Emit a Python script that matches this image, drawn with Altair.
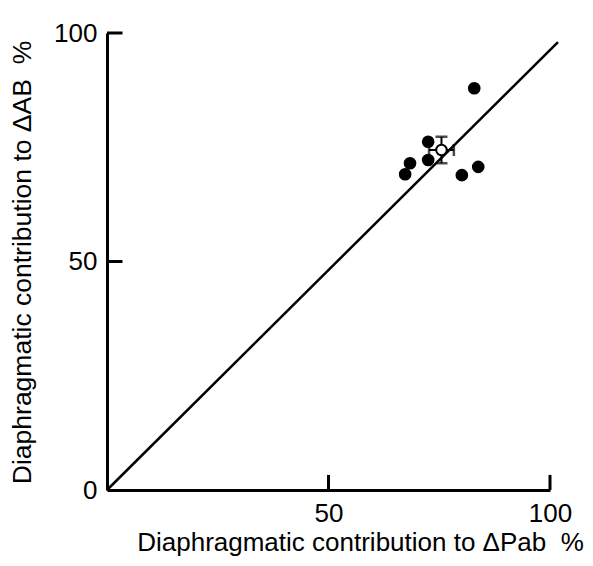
import altair as alt
import pandas as pd

# Individual subjects (filled circles)
pab = [67.3, 68.4, 72.5, 72.5, 80.1, 83.8, 82.9]
ab = [69.1, 71.5, 76.2, 72.2, 68.9, 70.7, 87.9]

# Mean +/- SE (open circle)
mean_pab = [75.5]
mean_ab = [74.4]
se_pab = [2.8]
se_ab = [2.9]

# Line drawn through the origin
line_x = [0, 101.8]
line_y = [0, 98]

x_ticks = [50, 100]
y_ticks = [0, 50, 100]
tick_marks = [50, 100]

XT = "Diaphragmatic contribution to \u0394Pab\u00a0\u00a0%"
YT = "Diaphragmatic contribution to \u0394AB\u00a0\u00a0%"

pts = pd.DataFrame({"pab": pab, "ab": ab})
mean_df = pd.DataFrame({
    "pab": mean_pab, "ab": mean_ab,
    "pab_lo": [m - s for m, s in zip(mean_pab, se_pab)],
    "pab_hi": [m + s for m, s in zip(mean_pab, se_pab)],
    "ab_lo": [m - s for m, s in zip(mean_ab, se_ab)],
    "ab_hi": [m + s for m, s in zip(mean_ab, se_ab)],
})
line_df = pd.DataFrame({"pab": line_x, "ab": line_y})
tick_df = pd.DataFrame({"v": tick_marks})

FONT = "Liberation Sans"

xscale = alt.Scale(domain=[0, 100], nice=False, zero=True)
yscale = alt.Scale(domain=[0, 100], nice=False, zero=True)

xaxis = alt.Axis(
    values=x_ticks, ticks=False, grid=False, domainColor="black", domainWidth=3,
    labelFontSize=26, labelFont=FONT, labelColor="black", labelPadding=10,
    labelFlush=False, labelOverlap=False,
    titleFont=FONT,
    titleFontSize=26, titleFontWeight="normal", titleColor="black",
    titleX=253, titleY=60, titleAlign="center", titleBaseline="alphabetic",
)
yaxis = alt.Axis(
    values=y_ticks, ticks=False, grid=False, domainColor="black", domainWidth=3,
    labelFontSize=26, labelFont=FONT, labelColor="black", labelPadding=10,
    labelFlush=False, labelOverlap=False,
    titleFont=FONT,
    titleFontSize=26.5, titleFontWeight="normal", titleColor="black",
    titleX=-85, titleY=229, titleAngle=-90, titleAlign="center",
    titleBaseline="middle",
)

base_x = alt.X("pab:Q", scale=xscale, axis=xaxis, title=XT)
base_y = alt.Y("ab:Q", scale=yscale, axis=yaxis, title=YT)

line = alt.Chart(line_df).mark_line(color="black", strokeWidth=2.5, clip=False).encode(
    x=base_x, y=base_y
)

dots = alt.Chart(pts).mark_circle(color="black", opacity=1, size=160).encode(
    x=alt.X("pab:Q", title=XT), y=alt.Y("ab:Q", title=YT)
)

hbar = alt.Chart(mean_df).mark_errorbar(
    ticks={"size": 12, "thickness": 2.5}, color="black", thickness=2
).encode(
    x=alt.X("pab_lo:Q", title=XT), x2="pab_hi:Q", y=alt.Y("ab:Q", title=YT)
)
vbar = alt.Chart(mean_df).mark_errorbar(
    ticks={"size": 12, "thickness": 2.5}, color="black", thickness=2
).encode(
    y=alt.Y("ab_lo:Q", title=YT), y2="ab_hi:Q", x=alt.X("pab:Q", title=XT)
)

mean_pt = alt.Chart(mean_df).mark_point(
    shape="circle", filled=True, fill="white", stroke="black", strokeWidth=2,
    size=110, opacity=1
).encode(x=alt.X("pab:Q", title=XT), y=alt.Y("ab:Q", title=YT))

xt = alt.Chart(tick_df).mark_rule(color="black", strokeWidth=3).encode(
    x=alt.X("v:Q", title=XT), y=alt.datum(0), y2=alt.datum(3.3)
)
yt = alt.Chart(tick_df).mark_rule(color="black", strokeWidth=3).encode(
    y=alt.Y("v:Q", title=YT), x=alt.datum(0), x2=alt.datum(3.5)
)

chart = alt.layer(line, xt, yt, dots, hbar, vbar, mean_pt).properties(
    width=443, height=457,
    autosize=alt.AutoSizeParams(type="none"),
    padding={"left": 99, "top": 25, "right": 35, "bottom": 68},
    background="white",
).configure_view(stroke=None)

chart.save("out.html", embed_options={"renderer": "svg", "actions": False})
